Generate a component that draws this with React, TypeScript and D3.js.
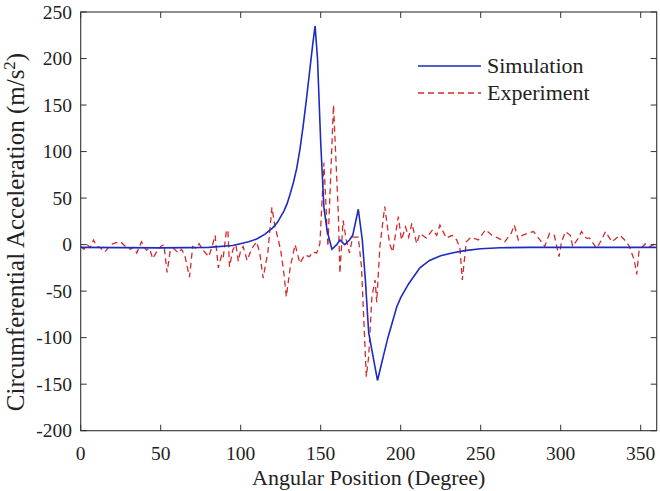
import React from "react";
import * as d3 from "d3";

const xTicks = [0, 50, 100, 150, 200, 250, 300, 350];
const yTicks = [-200, -150, -100, -50, 0, 50, 100, 150, 200, 250];

const simAngles = [0, 50, 80, 95, 105, 110, 115, 120, 123, 125, 127, 129, 131, 133, 135, 137, 139, 141, 143, 145, 146.5, 148, 150, 152, 154, 157, 160, 162, 165, 168, 170, 173.5, 176, 178, 180, 185.5, 188, 190, 192, 195, 197.5, 200, 205, 212, 218, 225, 232, 240, 250, 262, 280, 360];
const simValues = [-3, -3.5, -3, -1, 3, 6, 11, 18, 24, 30, 36, 44, 55, 67, 82, 102, 127, 155, 185, 215, 235, 200, 110, 40, 15, -5, 0, 5, 0, 5, 10, 38, 5, -40, -95, -146, -128, -114, -100, -82, -67, -57, -42, -25, -17, -12, -9, -6.5, -4.5, -3.3, -3, -3];

const expAngles = [0, 2, 4, 6, 8, 10, 12, 15, 17, 19, 22, 25, 28, 31, 33, 35, 38, 41, 43, 45, 48, 50, 52, 54, 56, 58, 61, 63, 65, 68, 70, 72, 74, 76, 78, 80, 82, 84, 86, 88, 89, 91, 92, 93, 95, 97, 98.5, 100, 101.5, 104, 107, 110, 112, 114, 117, 119.5, 121.5, 123.5, 125, 127, 128.5, 131, 134, 137, 140, 143, 145, 147.5, 149.5, 152, 154.5, 158, 161, 162, 164, 166, 168, 170, 173.5, 175.5, 178.5, 180, 182, 184, 185, 187, 190, 191.5, 193, 195, 197.5, 198.5, 200.5, 203, 205, 207, 210, 212, 216, 220, 222.5, 224.5, 228.5, 232, 235, 237, 238.5, 241, 244, 248.5, 253, 257, 261, 265, 269, 271, 273.5, 276, 279, 283, 287, 290, 293, 296, 299, 300.5, 303, 306, 307.5, 311, 313, 316, 318, 322.5, 325.5, 328, 332, 337, 340, 343, 346, 347.5, 349, 353, 356, 359, 360];
const expValues = [-2, -5, 0, -3, 5, -2, -3, -8, -4, 0, 2, 3, -2, -5, -3, -9, 3, -6, -4, -15, -6, -2, 0, -30, -6, -4, -9, -5, -11, -35, -2, -4, 1, -5, -9, -13, -3, 10, -25, -12, -15, 14, 16, -24, -6, 0, -18, -6, -2, -17, -4, 3, -10, -36, -8, 40, 19, 5, -6, -31, -56, -24, 0, -20, -11, -13, -8, -9, 1, 88, -2, 150, 34, -31, 26, 5, -9, 8, 8, -24, -142, -120, -56, -38, -62, -2, 41, 22, 1, -8, 19, 30, 5, 19, 8, 23, 1, 12, 7, 16, 10, 21, 7, 10, 5, -4, -38, 3, 8, 5, 16, 10, 7, 3, 12, 21, 5, 10, 12, 14, 5, -2, 12, 10, -13, 3, 14, 10, -2, 7, 14, 7, 7, -4, 5, 14, 3, 10, 5, -2, -17, -32, -6, 1, -2, 1, 1];

const seriesNames = ["Simulation", "Experiment"];

const W = 660, H = 491;
const L = 80.7, R = 656.7, T = 12, B = 430.7;
const FONT = "'Liberation Serif', 'Times New Roman', serif";
const BLUE = "#1c2bc0";
const RED = "#d42a2a";

export default function App() {
  const x = d3.scaleLinear().domain([0, 360]).range([L, R]);
  const y = d3.scaleLinear().domain([-200, 250]).range([B, T]);
  const line = d3.line<[number, number]>().x(d => x(d[0])).y(d => y(d[1]));
  const simPts = simAngles.map((a, i) => [a, simValues[i]] as [number, number]);
  const expPts = expAngles.map((a, i) => [a, expValues[i]] as [number, number]);
  const tickLen = 6;
  const axisColor = "#333";
  return (
    <svg width={W} height={H} style={{ position: "absolute", left: 0, top: 0, background: "#fff" }} fontFamily={FONT}>
      <defs>
        <clipPath id="plot">
          <rect x={L} y={T} width={R - L} height={B - T} />
        </clipPath>
      </defs>
      <rect x={0} y={0} width={W} height={H} fill="#fff" />
      <g clipPath="url(#plot)">
        <path d={line(expPts) || ""} fill="none" stroke={RED} strokeWidth={1.3} strokeDasharray="6,4" />
        <path d={line(simPts) || ""} fill="none" stroke={BLUE} strokeWidth={1.6} />
      </g>
      <rect x={L} y={T} width={R - L} height={B - T} fill="none" stroke={axisColor} strokeWidth={1.1} />
      {xTicks.map(t => (
        <g key={"x" + t}>
          <line x1={x(t)} x2={x(t)} y1={B} y2={B - tickLen} stroke={axisColor} />
          <line x1={x(t)} x2={x(t)} y1={T} y2={T + tickLen} stroke={axisColor} />
          <text x={x(t)} y={460} fontSize={19.5} textAnchor="middle" fill="#222">{t}</text>
        </g>
      ))}
      {yTicks.map(t => (
        <g key={"y" + t}>
          <line x1={L} x2={L + tickLen} y1={y(t)} y2={y(t)} stroke={axisColor} />
          <line x1={R} x2={R - tickLen} y1={y(t)} y2={y(t)} stroke={axisColor} />
          <text x={72} y={y(t) + 6.5} fontSize={19.5} textAnchor="end" fill="#222">{t}</text>
        </g>
      ))}
      <text x={(L + R) / 2} y={485} fontSize={22} textAnchor="middle" fill="#222">Angular Position (Degree)</text>
      <text transform={`translate(24,232) rotate(-90)`} fontSize={25} textAnchor="middle" fill="#222">
        Circumferential Acceleration (m/s<tspan dy={-9} fontSize={17}>2</tspan><tspan dy={9}>)</tspan>
      </text>
      <g>
        <line x1={418} x2={481} y1={66} y2={66} stroke={BLUE} strokeWidth={1.6} />
        <text x={487} y={73} fontSize={22} fill="#222">{seriesNames[0]}</text>
        <line x1={418} x2={481} y1={93} y2={93} stroke={RED} strokeWidth={1.3} strokeDasharray="6,4" />
        <text x={487} y={100} fontSize={22} fill="#222">{seriesNames[1]}</text>
      </g>
    </svg>
  );
}
